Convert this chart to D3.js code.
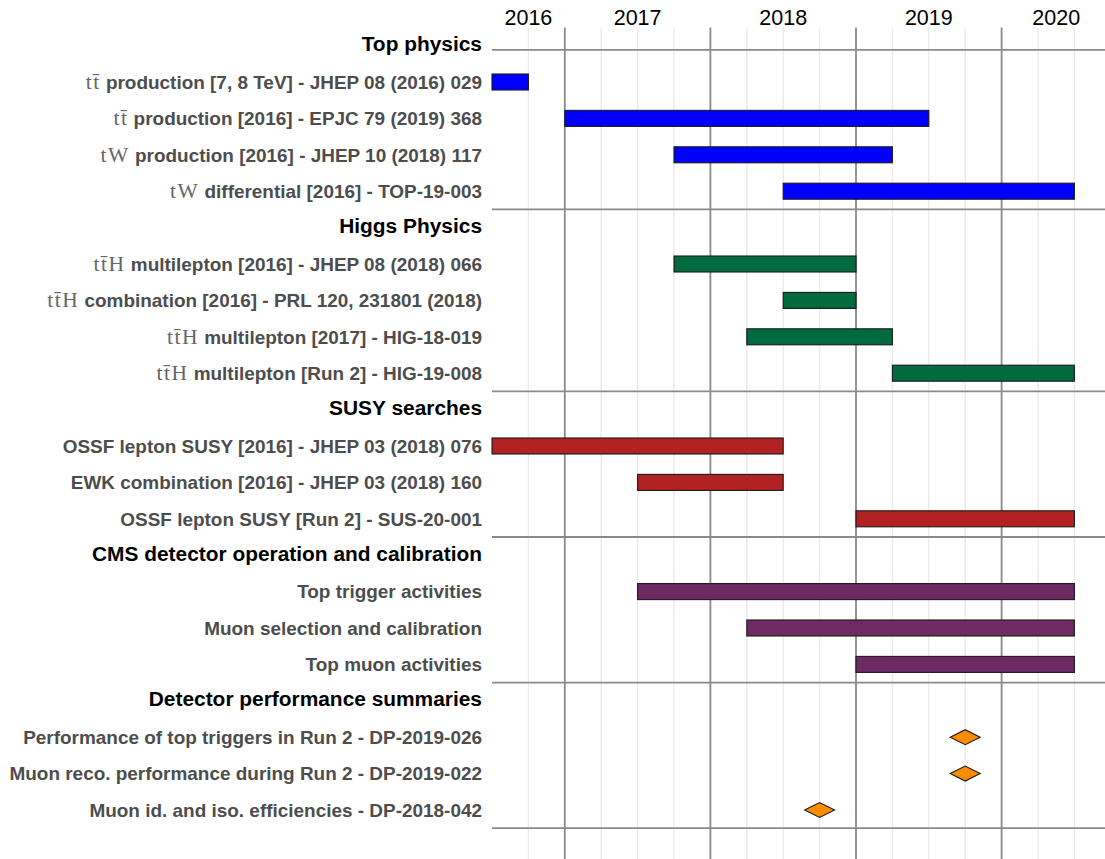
<!DOCTYPE html>
<html>
<head>
<meta charset="utf-8">
<script src="https://cdn.jsdelivr.net/npm/d3@7/dist/d3.min.js"></script>
<style>
  html, body { margin: 0; padding: 0; background: #ffffff; }
  svg { display: block; }
</style>
</head>
<body>
<svg id="chart" width="1105" height="859"></svg>
<script>
// ---------------- DATA ----------------
const groups = [
  "Top physics",
  "Higgs Physics",
  "SUSY searches",
  "CMS detector operation and calibration",
  "Detector performance summaries"
];
const groupColors = ["#0000FF", "#006B3F", "#B22222", "#6E2A63", "#FF8C00"];

const itemGroup = [0,0,0,0, 1,1,1,1, 2,2,2, 3,3,3, 4,4,4];
const itemMath = ["tt\u0304", "tt\u0304", "tW", "tW",
                  "tt\u0304H", "tt\u0304H", "tt\u0304H", "tt\u0304H",
                  "", "", "", "", "", "", "", "", ""];
const itemText = [
  "production [7, 8 TeV] - JHEP 08 (2016) 029",
  "production [2016] - EPJC 79 (2019) 368",
  "production [2016] - JHEP 10 (2018) 117",
  "differential [2016] - TOP-19-003",
  "multilepton [2016] - JHEP 08 (2018) 066",
  "combination [2016] - PRL 120, 231801 (2018)",
  "multilepton [2017] - HIG-18-019",
  "multilepton [Run 2] - HIG-19-008",
  "OSSF lepton SUSY [2016] - JHEP 03 (2018) 076",
  "EWK combination [2016] - JHEP 03 (2018) 160",
  "OSSF lepton SUSY [Run 2] - SUS-20-001",
  "Top trigger activities",
  "Muon selection and calibration",
  "Top muon activities",
  "Performance of top triggers in Run 2 - DP-2019-026",
  "Muon reco. performance during Run 2 - DP-2019-022",
  "Muon id. and iso. efficiencies - DP-2018-042"
];
// bar start / end (decimal years); null = single milestone (diamond)
const itemStart = [2016.5, 2017.0, 2017.75, 2018.5,
                   2017.75, 2018.5, 2018.25, 2019.25,
                   2016.5, 2017.5, 2019.0,
                   2017.5, 2018.25, 2019.0,
                   null, null, null];
const itemEnd   = [2016.75, 2019.5, 2019.25, 2020.5,
                   2019.0, 2019.0, 2019.25, 2020.5,
                   2018.5, 2018.5, 2020.5,
                   2020.5, 2020.5, 2020.5,
                   null, null, null];
const itemPoint = [null, null, null, null, null, null, null, null,
                   null, null, null, null, null, null,
                   2019.75, 2019.75, 2018.75];

const yearLabels = ["2016", "2017", "2018", "2019", "2020"];
const xDomain = [2016.5, 2020.75];
const majorTicks = [2017, 2018, 2019, 2020];
const minorTicks = [2016.75, 2017.25, 2017.5, 2017.75, 2018.25, 2018.5, 2018.75,
                    2019.25, 2019.5, 2019.75, 2020.25, 2020.5];
// separator lines, in row units from top of the row grid
const separatorRows = [0.62, 5, 10, 14, 18, 22];

// ---------------- BUILD ROWS ----------------
const rows = [];
groups.forEach((g, gi) => {
  rows.push({ type: "header", gi: gi, label: g });
  itemGroup.forEach((ig, i) => {
    if (ig === gi) rows.push({ type: "item", gi: gi, i: i });
  });
});

// ---------------- SCALES ----------------
const svg = d3.select("#chart");
const labelX = 482;
const x = d3.scaleLinear().domain(xDomain).range([492, 492 + 4.25 * 145.6]);
const y = d3.scaleBand().domain(d3.range(rows.length)).range([27.4, 828.2]).padding(0);
const bw = y.bandwidth();
const yc = k => y(k) + bw / 2;
const yRow = d3.scaleLinear().domain([0, rows.length]).range([27.4, 828.2]);

const gridTop = 27.4, gridBottom = 859;

// minor grid
svg.append("g").selectAll("line").data(minorTicks).join("line")
  .attr("x1", d => x(d)).attr("x2", d => x(d))
  .attr("y1", gridTop).attr("y2", gridBottom)
  .attr("stroke", "#EBEBEB").attr("stroke-width", 1.4);

// major grid
svg.append("g").selectAll("line").data(majorTicks).join("line")
  .attr("x1", d => x(d)).attr("x2", d => x(d))
  .attr("y1", gridTop).attr("y2", gridBottom)
  .attr("stroke", "#8A8A8A").attr("stroke-width", 1.8);

// separators
svg.append("g").selectAll("line").data(separatorRows).join("line")
  .attr("x1", x(xDomain[0])).attr("x2", 1105)
  .attr("y1", d => yRow(d)).attr("y2", d => yRow(d))
  .attr("stroke", "#8A8A8A").attr("stroke-width", 1.8);

// year labels at middle of the visible part of each year
svg.append("g").selectAll("text").data(yearLabels).join("text")
  .attr("x", d => {
    const yr = +d;
    const a = Math.max(yr, xDomain[0]), b = Math.min(yr + 1, xDomain[1]);
    return x((a + b) / 2);
  })
  .attr("y", 25)
  .attr("text-anchor", "middle")
  .attr("font-family", "'Liberation Sans', Arial, sans-serif")
  .attr("font-size", 21.5)
  .attr("fill", "#000")
  .text(d => d);

// row labels
const lab = svg.append("g");
rows.forEach((r, k) => {
  if (r.type === "header") {
    lab.append("text")
      .attr("x", labelX).attr("y", yc(k) - 2)
      .attr("dy", "0.36em")
      .attr("text-anchor", "end")
      .attr("font-family", "'Liberation Sans', Arial, sans-serif")
      .attr("font-weight", "bold")
      .attr("font-size", 20.9)
      .attr("fill", "#000")
      .text(r.label);
  } else {
    const t = lab.append("text")
      .attr("x", labelX).attr("y", yc(k))
      .attr("dy", "0.36em")
      .attr("text-anchor", "end")
      .attr("font-family", "'Liberation Sans', Arial, sans-serif")
      .attr("font-weight", "bold")
      .attr("font-size", 18.95)
      .attr("fill", "#4D4D4D");
    const m = itemMath[r.i];
    if (m) {
      t.append("tspan")
        .attr("font-family", "'Liberation Serif', 'DejaVu Serif', serif")
        .attr("font-weight", "normal")
        .attr("font-size", 21.5)
        .attr("letter-spacing", 1.5)
        .attr("fill", "#666")
        .text(m);
      t.append("tspan").text("\u00A0" + itemText[r.i]);
    } else {
      t.append("tspan").text(itemText[r.i]);
    }
  }
});

// bars
const itemRows = rows.map((r, k) => ({ r, k })).filter(d => d.r.type === "item");
const barH = 16;
svg.append("g").selectAll("rect")
  .data(itemRows.filter(d => itemStart[d.r.i] !== null))
  .join("rect")
  .attr("x", d => x(itemStart[d.r.i]))
  .attr("width", d => x(itemEnd[d.r.i]) - x(itemStart[d.r.i]))
  .attr("y", d => yc(d.k) - barH / 2)
  .attr("height", barH)
  .attr("fill", d => groupColors[d.r.gi])
  .attr("stroke", "#1a1a1a")
  .attr("stroke-width", 1.1);

// milestones (diamonds)
const dW = 15, dH = 7.5;
svg.append("g").selectAll("path")
  .data(itemRows.filter(d => itemPoint[d.r.i] !== null))
  .join("path")
  .attr("d", d => {
    const cx = x(itemPoint[d.r.i]), cy = yc(d.k);
    return `M${cx - dW},${cy}L${cx},${cy - dH}L${cx + dW},${cy}L${cx},${cy + dH}Z`;
  })
  .attr("fill", d => groupColors[d.r.gi])
  .attr("stroke", "#1a1a1a")
  .attr("stroke-width", 1.1);
</script>
</body>
</html>
